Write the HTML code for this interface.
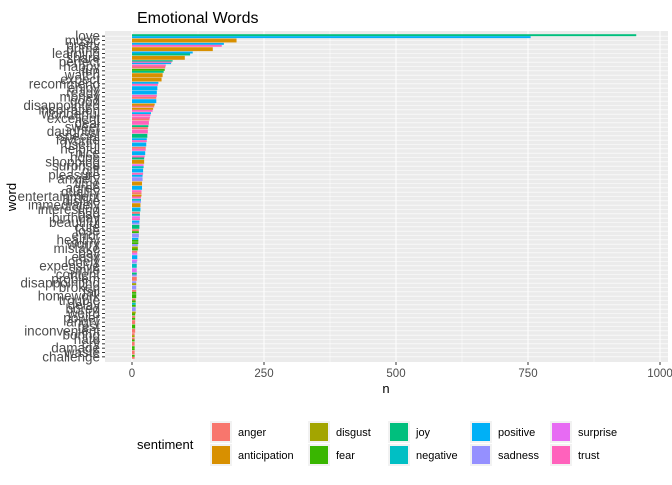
<!DOCTYPE html>
<html><head><meta charset="utf-8"><style>
body{margin:0;background:#fff;font-family:"Liberation Sans",sans-serif}
svg text{font-family:"Liberation Sans",sans-serif}
</style></head><body>
<svg id="chart" width="672" height="480" xmlns="http://www.w3.org/2000/svg">
<text x="137" y="23" font-size="16" fill="#000">Emotional Words</text>
<g id="panel"></g>
<text x="386" y="393" font-size="13" text-anchor="middle" fill="#000">n</text>
<text transform="translate(16,197) rotate(-90)" font-size="13" text-anchor="middle" fill="#000">word</text>
<g id="legend"></g>
</svg>
<script>
const entryWords=["love","love","music","pretty","pretty","prime","learning","learning","share","perfect","perfect","perfect","happy","happy","fun","fun","watch","expect","recommend","recommend","enjoy","ready","money","money","good","disappointed","disappointed","inspiration","inspiration","wonderful","wonderful","excellent","excellent","deal","sweet","sweet","daughter","special","favorite","favorite","useful","helpful","helpful","nice","hope","hope","shopping","surprise","surprise","gift","pleasure","pleasure","anxiety","time","agree","quality","quality","entertainment","entertainment","dislike","dislike","immediately","interesting","interesting","bad","bad","birthday","birthday","beautiful","beautiful","cute","lose","lose","error","healthy","healthy","worry","worry","mistake","mistake","pay","pay","easy","lonely","lonely","expensive","smile","content","content","problem","disappointing","disappointing","broken","fail","fail","homework","trouble","trouble","delay","delay","bored","weird","weird","power","power","angry","rest","rest","inconvenient","boring","boring","hate","hate","cry","damage","damage","waste","waste","challenge","challenge"];
const entrySentiments=["joy","positive","anticipation","positive","trust","anticipation","positive","joy","anticipation","joy","trust","positive","trust","anger","fear","joy","anticipation","anticipation","positive","trust","positive","positive","trust","anger","positive","anticipation","anger","anticipation","trust","positive","trust","trust","anger","trust","joy","anger","trust","joy","positive","trust","positive","anger","trust","positive","trust","joy","anticipation","surprise","negative","positive","trust","positive","sadness","anticipation","positive","trust","anger","anticipation","trust","negative","sadness","anticipation","positive","negative","anger","negative","surprise","trust","positive","sadness","joy","anger","fear","sadness","positive","fear","fear","sadness","disgust","fear","anger","surprise","positive","surprise","sadness","negative","surprise","joy","sadness","anger","sadness","disgust","sadness","anger","fear","fear","anger","fear","negative","fear","sadness","disgust","fear","anger","fear","anger","fear","fear","anger","anger","disgust","anger","fear","anger","fear","fear","anger","anger","fear","anger","fear"];
const entryValues=[955,755,198,174,170,153,115,110,100,77,75,74,64,63,62,60,58,56,50,49,48,47,47,46,46,43,42,40,39,36,35,34,33,32,31,30,30,29,28,28,27,26,26,25,24,23,23,22,22,21,21,20,20,19,19,18,18,18,17,17,17,16,16,16,15,15,15,15,14,14,14,13,13,13,12,12,12,11,11,11,10,10,10,10,9,9,9,9,9,9,8,8,8,8,8,8,7,7,7,7,7,7,6,6,6,6,6,6,6,5,5,5,5,5,5,5,5,5,5,5,5];
const xTicks=[0,250,500,750,1000];
const sentimentNames=["anger","anticipation","disgust","fear","joy","negative","positive","sadness","surprise","trust"];
const sentimentColors=["#F8766D","#D89000","#A3A500","#39B600","#00BF7D","#00BFC4","#00B0F6","#9590FF","#E76BF3","#FF62BC"];
const NS="http://www.w3.org/2000/svg";
const PL=105,PR=668,PT=31,PB=362;
const x=v=>132+v*0.528;
function mk(tag,attrs,parent){const e=document.createElementNS(NS,tag);for(const k in attrs)e.setAttribute(k,attrs[k]);parent.appendChild(e);return e;}
const panel=document.getElementById('panel');
mk('rect',{x:PL,y:PT,width:PR-PL,height:PB-PT,fill:'#EBEBEB'},panel);
const rows=[];entryWords.forEach((w,i)=>{let r=rows.find(o=>o.w===w);if(!r){r={w,idx:[]};rows.push(r);}r.idx.push(i);});
const rh=(PB-PT-6)/rows.length;
const yc=i=>PT+3+rh*(i+0.5);
[125,375,625,875].forEach(v=>{mk('line',{x1:x(v),x2:x(v),y1:PT,y2:PB,stroke:'#fff','stroke-width':0.5},panel);});
xTicks.forEach(v=>{mk('line',{x1:x(v),x2:x(v),y1:PT,y2:PB,stroke:'#fff','stroke-width':1},panel);});
rows.forEach((r,i)=>{mk('line',{x1:PL,x2:PR,y1:yc(i),y2:yc(i),stroke:'#fff','stroke-width':0.6},panel);});
rows.forEach((r,i)=>{
  const k=r.idx.length,bh=rh*0.9/k;
  r.idx.forEach((ei,j)=>{
    const b=mk('rect',{x:x(0),y:yc(i)-rh*0.45+j*bh,width:Math.max(0,x(entryValues[ei])-x(0)),height:bh,fill:sentimentColors[sentimentNames.indexOf(entrySentiments[ei])]},panel);
    
    
  });
  const t=mk('text',{x:100,y:yc(i)+4.5,'font-size':13.5,'text-anchor':'end',fill:'#4D4D4D'},panel);
  t.textContent=r.w;
  
  
  mk('line',{x1:102,x2:105,y1:yc(i),y2:yc(i),stroke:'#333','stroke-width':1},panel);
});
xTicks.forEach(v=>{
  mk('line',{x1:x(v),x2:x(v),y1:PB,y2:PB+3,stroke:'#333'},panel);
  const t=mk('text',{x:x(v),y:PB+15,'font-size':11.5,'text-anchor':'middle',fill:'#4D4D4D'},panel);
  t.textContent=v;
  
  
});
const lg=document.getElementById('legend');
const lt=mk('text',{x:137,y:449,'font-size':13,fill:'#000'},lg);lt.textContent='sentiment';


const colX=[210,308,388,470,550];
sentimentNames.forEach((s,i)=>{
  const c=Math.floor(i/2),r=i%2;
  const g=mk('g',{},lg);
  
  
  mk('rect',{x:colX[c],y:421+r*23,width:22,height:22,fill:'#F2F2F2'},g);
  mk('rect',{x:colX[c]+2,y:423+r*23,width:18,height:18,fill:sentimentColors[i]},g);
  const t=mk('text',{x:colX[c]+28,y:436+r*23,'font-size':11,fill:'#000'},g);t.textContent=s;
});
</script>
</body></html>
